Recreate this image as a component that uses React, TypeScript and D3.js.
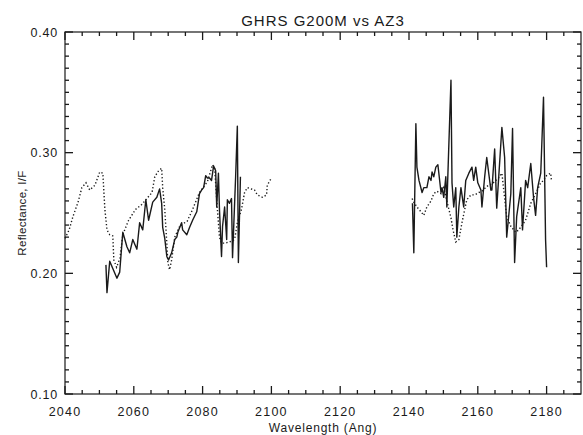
import React from "react";
import * as d3 from "d3";

// GHRS G200M spectrum (solid), two wavelength windows
const ghrsBlueWave = [2051.9, 2052.2, 2053.0, 2055.1, 2055.9, 2056.8, 2058.0, 2058.8, 2059.7, 2060.9, 2061.7, 2062.6, 2063.5, 2064.3, 2065.5, 2066.7, 2067.5, 2068.1, 2068.4, 2069.0, 2069.6, 2070.1, 2071.0, 2071.9, 2072.5, 2072.8, 2073.9, 2074.2, 2075.4, 2076.2, 2077.1, 2078.3, 2079.1, 2079.7, 2080.3, 2080.9, 2081.4, 2082.0, 2082.6, 2083.2, 2083.8, 2084.1, 2084.6, 2084.9, 2085.5, 2085.8, 2086.4, 2087.0, 2087.2, 2087.8, 2088.4, 2088.7, 2089.6, 2090.1, 2090.4, 2091.0];
const ghrsBlueRefl = [0.207, 0.184, 0.210, 0.196, 0.201, 0.234, 0.222, 0.217, 0.228, 0.220, 0.242, 0.236, 0.261, 0.244, 0.259, 0.263, 0.270, 0.258, 0.238, 0.229, 0.214, 0.211, 0.217, 0.228, 0.230, 0.234, 0.242, 0.236, 0.232, 0.238, 0.244, 0.251, 0.266, 0.269, 0.271, 0.281, 0.279, 0.279, 0.277, 0.289, 0.285, 0.255, 0.283, 0.253, 0.214, 0.239, 0.255, 0.228, 0.261, 0.258, 0.262, 0.213, 0.280, 0.322, 0.209, 0.280];

const ghrsRedWave = [2141.0, 2141.4, 2142.0, 2142.3, 2142.9, 2143.8, 2144.3, 2145.2, 2145.8, 2146.4, 2146.7, 2147.2, 2147.8, 2148.4, 2149.3, 2149.6, 2150.1, 2150.7, 2151.0, 2151.6, 2152.2, 2152.5, 2153.0, 2153.6, 2153.9, 2154.5, 2155.1, 2155.9, 2156.5, 2157.4, 2158.3, 2158.8, 2159.4, 2160.0, 2160.9, 2161.2, 2162.0, 2162.6, 2163.8, 2164.1, 2164.9, 2165.5, 2166.4, 2167.0, 2167.8, 2168.4, 2169.6, 2170.1, 2170.7, 2171.3, 2172.5, 2173.0, 2173.9, 2174.5, 2175.4, 2176.2, 2176.8, 2177.4, 2178.3, 2179.1, 2179.7, 2180.0];
const ghrsRedRefl = [0.258, 0.217, 0.324, 0.288, 0.277, 0.267, 0.271, 0.271, 0.280, 0.277, 0.284, 0.280, 0.288, 0.290, 0.267, 0.271, 0.263, 0.280, 0.255, 0.308, 0.360, 0.275, 0.255, 0.271, 0.230, 0.255, 0.271, 0.255, 0.277, 0.283, 0.288, 0.277, 0.288, 0.275, 0.269, 0.255, 0.280, 0.296, 0.269, 0.269, 0.303, 0.254, 0.294, 0.321, 0.296, 0.230, 0.266, 0.320, 0.209, 0.247, 0.271, 0.236, 0.277, 0.271, 0.291, 0.263, 0.248, 0.271, 0.283, 0.346, 0.228, 0.205];

// AZ3 model (dotted)
const az3BlueWave = [2040.0, 2041.2, 2042.3, 2043.8, 2044.9, 2046.1, 2047.2, 2048.7, 2050.1, 2051.0, 2051.6, 2052.2, 2053.0, 2053.9, 2054.2, 2055.0, 2056.0, 2056.8, 2058.5, 2060.5, 2062.3, 2063.8, 2065.3, 2066.1, 2067.2, 2068.1, 2068.4, 2069.0, 2069.6, 2069.9, 2070.4, 2071.0, 2071.9, 2073.5, 2075.5, 2077.1, 2079.1, 2081.4, 2082.9, 2083.5, 2084.3, 2084.9, 2085.5, 2086.4, 2087.8, 2089.3, 2090.1, 2091.3, 2092.2, 2093.0, 2095.1, 2095.9, 2097.4, 2098.6, 2098.8, 2100.0];
const az3BlueRefl = [0.229, 0.236, 0.247, 0.259, 0.271, 0.275, 0.269, 0.273, 0.284, 0.283, 0.253, 0.236, 0.232, 0.231, 0.211, 0.205, 0.213, 0.232, 0.244, 0.253, 0.257, 0.262, 0.267, 0.280, 0.285, 0.287, 0.271, 0.253, 0.225, 0.209, 0.203, 0.211, 0.230, 0.240, 0.243, 0.253, 0.267, 0.276, 0.290, 0.287, 0.253, 0.230, 0.225, 0.225, 0.226, 0.228, 0.242, 0.253, 0.267, 0.271, 0.269, 0.265, 0.263, 0.265, 0.273, 0.279];

const az3RedWave = [2140.9, 2141.4, 2142.3, 2143.5, 2144.3, 2145.2, 2146.4, 2147.2, 2148.1, 2149.3, 2150.1, 2151.0, 2152.2, 2152.8, 2153.6, 2154.5, 2155.4, 2156.2, 2156.8, 2158.0, 2159.1, 2160.3, 2161.2, 2162.6, 2164.5, 2166.0, 2167.0, 2168.4, 2169.6, 2171.0, 2171.9, 2173.9, 2175.4, 2176.8, 2178.3, 2179.1, 2180.0, 2181.2, 2181.4];
const az3RedRefl = [0.262, 0.259, 0.255, 0.251, 0.248, 0.255, 0.260, 0.266, 0.268, 0.266, 0.271, 0.260, 0.246, 0.236, 0.226, 0.228, 0.242, 0.253, 0.261, 0.265, 0.265, 0.267, 0.268, 0.272, 0.275, 0.279, 0.283, 0.247, 0.239, 0.234, 0.236, 0.244, 0.258, 0.266, 0.275, 0.277, 0.281, 0.283, 0.277];

// Axis ticks and labels
const xMajorTicks = [2040, 2060, 2080, 2100, 2120, 2140, 2160, 2180];
const yMajorTicks = [0.1, 0.2, 0.3, 0.4];
const titleText = "GHRS G200M vs AZ3";
const xAxisTitle = "Wavelength (Ang)";
const yAxisTitle = "Reflectance, I/F";

const W = 583;
const H = 435;
const plotLeft = 65;
const plotRight = 581;
const plotTop = 32;
const plotBottom = 394;
const ink = "#1a1a1a";
const font = "'Liberation Sans', Arial, Helvetica, sans-serif";

export default function App() {
  const x = d3.scaleLinear().domain([2040, 2190]).range([plotLeft, plotRight]);
  const y = d3.scaleLinear().domain([0.1, 0.4]).range([plotBottom, plotTop]);

  const line = d3
    .line<[number, number]>()
    .x((d) => x(d[0]))
    .y((d) => y(d[1]));

  const pairs = (w: number[], r: number[]) => w.map((v, i) => [v, r[i]] as [number, number]);

  const xMinor = d3.range(2045, 2190, 5).filter((v) => !xMajorTicks.includes(v));
  const yMinor = d3.range(11, 40, 1).filter((v) => v % 10 !== 0).map((v) => v / 100);

  const majLen = 8;
  const minLen = 4;

  return (
    <svg
      width={W}
      height={H}
      style={{ position: "absolute", left: 0, top: 0, background: "#fff" }}
      fontFamily={font}
    >
      <rect x={0} y={0} width={W} height={H} fill="#fff" />

      {/* tick marks on all four sides, pointing inward */}
      <g stroke={ink} strokeWidth={1.3}>
        {xMajorTicks.map((t) => (
          <line key={"xb" + t} x1={x(t)} x2={x(t)} y1={plotBottom} y2={plotBottom - majLen} />
        ))}
        {xMinor.map((t) => (
          <line key={"xbn" + t} x1={x(t)} x2={x(t)} y1={plotBottom} y2={plotBottom - minLen} />
        ))}
        {xMajorTicks.map((t) => (
          <line key={"xt" + t} x1={x(t)} x2={x(t)} y1={plotTop} y2={plotTop + majLen} />
        ))}
        {xMinor.map((t) => (
          <line key={"xtn" + t} x1={x(t)} x2={x(t)} y1={plotTop} y2={plotTop + minLen} />
        ))}
        {yMajorTicks.map((t) => (
          <line key={"yl" + t} x1={plotLeft} x2={plotLeft + majLen} y1={y(t)} y2={y(t)} />
        ))}
        {yMinor.map((t) => (
          <line key={"yln" + t} x1={plotLeft} x2={plotLeft + minLen} y1={y(t)} y2={y(t)} />
        ))}
        {yMajorTicks.map((t) => (
          <line key={"yr" + t} x1={plotRight} x2={plotRight - majLen} y1={y(t)} y2={y(t)} />
        ))}
        {yMinor.map((t) => (
          <line key={"yrn" + t} x1={plotRight} x2={plotRight - minLen} y1={y(t)} y2={y(t)} />
        ))}
      </g>

      {/* plot frame */}
      <rect
        x={plotLeft}
        y={plotTop}
        width={plotRight - plotLeft}
        height={plotBottom - plotTop}
        fill="none"
        stroke={ink}
        strokeWidth={1.2}
      />

      {xMajorTicks.map((t) => (
        <text key={"xl" + t} x={x(t)} y={416} textAnchor="middle" fontSize={12.5} letterSpacing={1.2} fill={ink}>
          {t}
        </text>
      ))}
      {yMajorTicks.map((t) => (
        <text key={"ylab" + t} x={plotLeft - 7} y={y(t) + 4.5} textAnchor="end" fontSize={12.5} letterSpacing={0.8} fill={ink}>
          {t.toFixed(2)}
        </text>
      ))}

      {/* model */}
      {[pairs(az3BlueWave, az3BlueRefl), pairs(az3RedWave, az3RedRefl)].map((seg, i) => (
        <path key={"az" + i} d={line(seg) ?? ""} fill="none" stroke={ink} strokeWidth={1.4} strokeDasharray="1.3 2.2" />
      ))}

      {/* observation */}
      {[pairs(ghrsBlueWave, ghrsBlueRefl), pairs(ghrsRedWave, ghrsRedRefl)].map((seg, i) => (
        <path key={"gh" + i} d={line(seg) ?? ""} fill="none" stroke={ink} strokeWidth={1.4} strokeLinejoin="round" />
      ))}

      {/* titles */}
      <text x={(plotLeft + plotRight) / 2} y={26} textAnchor="middle" fontSize={15} letterSpacing={1} fill={ink}>
        {titleText}
      </text>
      <text x={(plotLeft + plotRight) / 2} y={432} textAnchor="middle" fontSize={12} letterSpacing={0.8} fill={ink}>
        {xAxisTitle}
      </text>
      <text
        transform={`translate(26, ${(plotTop + plotBottom) / 2}) rotate(-90)`}
        textAnchor="middle"
        fontSize={11.5}
        letterSpacing={0.3}
        fill={ink}
      >
        {yAxisTitle}
      </text>
    </svg>
  );
}
